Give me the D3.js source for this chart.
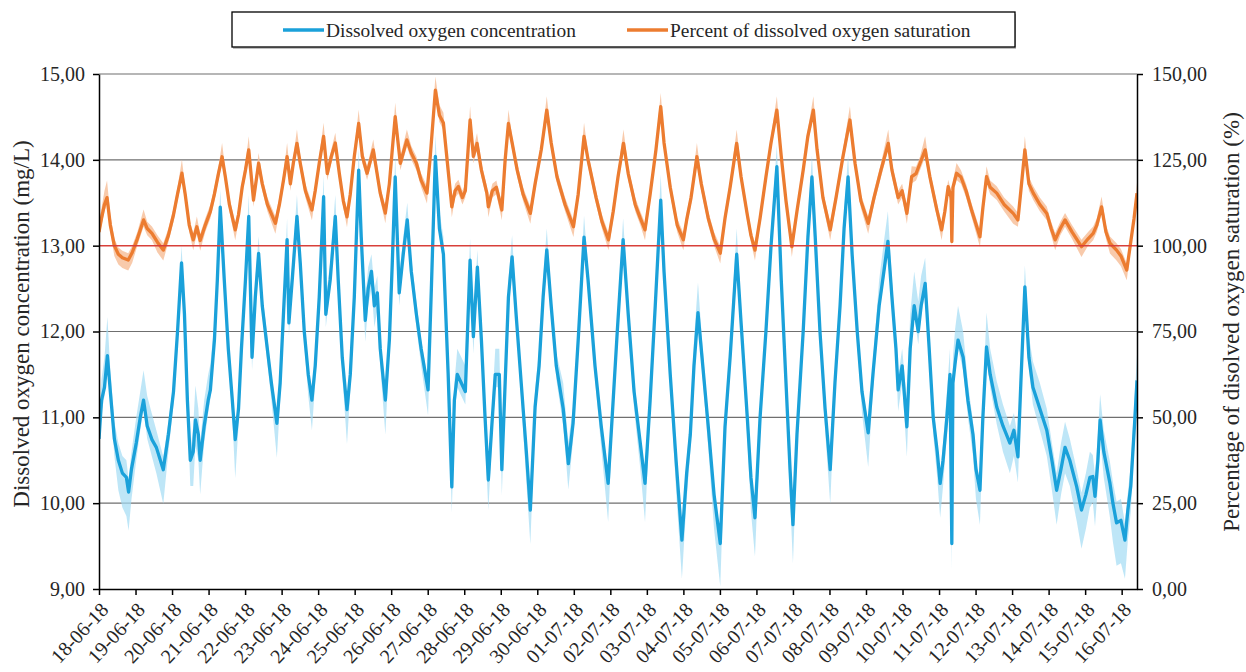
<!DOCTYPE html>
<html><head><meta charset="utf-8">
<script src="https://cdn.jsdelivr.net/npm/d3@7"></script>
<style>
body{margin:0;background:#fff}
svg{display:block}
text{font-family:"Liberation Serif","Times New Roman",serif;fill:#262626}
</style>
</head><body>
<svg id="chart" width="1246" height="672"></svg>
<script>
// ---------- DATA ----------
const legendLabels = ["Dissolved oxygen concentration", "Percent of dissolved oxygen saturation"];
const leftAxisTitle = "Dissolved oxygen concentration (mg/L)";
const rightAxisTitle = "Percentage of disolved oxygen saturation (%)";
const leftTicks = [9, 10, 11, 12, 13, 14, 15];
const rightTicks = [0, 25, 50, 75, 100, 125, 150];
const dateLabels = ["18-06-18","19-06-18","20-06-18","21-06-18","22-06-18","23-06-18","24-06-18","25-06-18",
  "26-06-18","27-06-18","28-06-18","29-06-18","30-06-18","01-07-18","02-07-18","03-07-18","04-07-18",
  "05-07-18","06-07-18","07-07-18","08-07-18","09-07-18","10-07-18","11-07-18","12-07-18","13-07-18",
  "14-07-18","15-07-18","16-07-18"];
const saturationReference = 100; // %

// Dissolved oxygen concentration (mg/L): time in days since 18-06-18 00:00
const doTime = [
 0,0.07,0.15,0.23,0.31,0.42,0.53,0.64,0.75,0.81,
 0.89,1.02,1.13,1.22,1.32,1.45,1.57,1.76,1.90,2.04,
 2.15,2.26,2.34,2.42,2.50,2.58,2.64,2.72,2.77,2.88,
 2.99,3.05,3.16,3.24,3.32,3.43,3.54,3.65,3.73,3.82,
 3.90,4.01,4.10,4.19,4.28,4.37,4.47,4.58,4.72,4.87,
 4.96,5.05,5.15,5.20,5.29,5.42,5.51,5.62,5.73,5.83,
 5.92,6.03,6.15,6.21,6.33,6.47,6.55,6.66,6.79,6.88,
 6.99,7.11,7.18,7.29,7.37,7.46,7.54,7.62,7.70,7.84,
 7.95,8.03,8.11,8.22,8.33,8.44,8.55,8.69,8.82,9.01,
 9.10,9.21,9.32,9.43,9.56,9.66,9.73,9.81,9.92,10.03,
 10.16,10.25,10.36,10.47,10.57,10.66,10.77,10.85,10.96,11.03,
 11.12,11.21,11.31,11.42,11.56,11.70,11.81,11.94,12.05,12.16,
 12.26,12.38,12.52,12.71,12.85,12.98,13.12,13.28,13.39,13.58,
 13.75,13.94,14.05,14.19,14.35,14.49,14.65,14.82,14.95,15.09,
 15.23,15.38,15.47,15.64,15.80,15.96,16.09,16.19,16.29,16.40,
 16.51,16.68,16.84,17.01,17.14,17.28,17.46,17.58,17.75,17.85,
 17.96,18.10,18.26,18.40,18.56,18.68,18.81,18.92,19.00,19.11,
 19.28,19.41,19.52,19.61,19.74,19.88,20.02,20.15,20.29,20.40,
 20.51,20.62,20.76,20.89,21.06,21.19,21.36,21.49,21.60,21.71,
 21.82,21.88,21.99,22.12,22.21,22.32,22.43,22.51,22.62,22.73,
 22.84,22.95,23.03,23.11,23.21,23.30,23.35,23.38,23.44,23.52,
 23.66,23.79,23.93,24.01,24.12,24.20,24.30,24.40,24.58,24.75,
 24.94,25.05,25.16,25.24,25.35,25.46,25.57,25.76,25.95,26.09,
 26.22,26.34,26.45,26.58,26.77,26.90,27.02,27.13,27.21,27.27,
 27.35,27.41,27.51,27.68,27.76,27.86,27.98,28.09,28.17,28.25,
 28.36,28.42];
const doValue = [
 10.75,11.20,11.35,11.72,11.30,10.75,10.50,10.35,10.30,10.13,
 10.40,10.70,11.00,11.20,10.90,10.74,10.65,10.39,10.80,11.30,
 12.00,12.80,12.20,11.20,10.50,10.60,10.97,10.80,10.50,10.90,
 11.20,11.32,11.90,12.60,13.45,12.60,11.80,11.20,10.74,11.10,
 11.80,12.60,13.34,11.70,12.40,12.91,12.30,11.90,11.40,10.93,
 11.40,12.20,13.07,12.10,12.60,13.34,12.80,12.00,11.50,11.20,
 11.60,12.40,13.57,12.20,12.60,13.34,12.60,11.70,11.09,11.50,
 12.40,13.88,13.10,12.13,12.50,12.70,12.30,12.45,11.80,11.20,
 11.90,12.80,13.80,12.45,12.90,13.30,12.70,12.20,11.80,11.32,
 12.50,14.04,13.20,12.90,11.50,10.19,11.20,11.50,11.40,11.30,
 12.83,11.94,12.75,11.90,11.00,10.27,11.00,11.50,11.50,10.39,
 11.40,12.40,12.87,12.20,11.40,10.60,9.92,11.12,11.60,12.40,
 12.95,12.30,11.60,11.10,10.46,10.93,11.90,13.10,12.60,11.60,
 10.90,10.23,11.00,12.00,13.07,12.20,11.30,10.70,10.23,11.20,
 12.30,13.53,12.70,11.50,10.50,9.57,10.35,10.80,11.60,12.22,
 11.70,10.90,10.10,9.53,10.89,11.70,12.90,12.10,11.00,10.30,
 9.83,11.00,12.00,13.00,13.92,12.60,11.40,10.40,9.75,10.80,
 12.00,13.10,13.80,13.10,12.00,11.10,10.39,11.40,12.30,13.20,
 13.80,12.90,12.00,11.30,10.82,11.50,12.30,12.70,13.05,12.40,
 11.80,11.32,11.60,10.89,11.80,12.30,12.00,12.30,12.56,11.80,
 11.00,10.60,10.23,10.50,10.97,11.50,9.53,11.40,11.63,11.90,
 11.70,11.20,10.80,10.40,10.15,11.00,11.82,11.50,11.12,10.90,
 10.70,10.85,10.54,11.40,12.52,11.70,11.35,11.10,10.85,10.50,
 10.15,10.40,10.65,10.50,10.19,9.92,10.10,10.30,10.31,10.08,
 10.50,10.97,10.60,10.23,10.00,9.77,9.80,9.57,9.92,10.20,
 10.97,11.43];
// spread of the shaded band below / above the concentration line (mg/L)
const doBandDown = [
 .10,.15,.10,.10,.10,.20,.35,.40,.45,.45,
 .35,.20,.15,.10,.15,.20,.30,.40,.20,.15,
 .10,.10,.10,.10,.30,.40,.30,.30,.40,.20,
 .15,.10,.10,.10,.10,.10,.10,.20,.45,.20,
 .10,.10,.10,.15,.10,.10,.10,.15,.20,.40,
 .20,.10,.10,.15,.10,.10,.10,.15,.25,.35,
 .20,.10,.10,.15,.10,.10,.10,.20,.40,.20,
 .10,.10,.15,.25,.20,.20,.25,.20,.20,.40,
 .15,.10,.10,.15,.10,.10,.10,.15,.20,.30,
 .10,.10,.10,.10,.20,.30,.20,.15,.15,.15,
 .10,.20,.10,.15,.25,.35,.20,.15,.15,.30,
 .15,.10,.10,.10,.20,.35,.40,.15,.10,.10,
 .10,.10,.15,.20,.30,.20,.10,.10,.10,.15,
 .25,.45,.20,.10,.10,.10,.20,.30,.45,.15,
 .10,.10,.10,.15,.35,.45,.30,.20,.15,.10,
 .15,.25,.40,.50,.20,.10,.10,.10,.25,.40,
 .45,.20,.10,.10,.10,.10,.20,.35,.45,.20,
 .10,.10,.10,.10,.15,.25,.40,.15,.10,.10,
 .10,.10,.15,.25,.40,.20,.10,.10,.10,.10,
 .15,.25,.20,.35,.15,.10,.15,.10,.10,.15,
 .20,.30,.40,.30,.20,.15,.30,.15,.10,.10,
 .15,.20,.25,.35,.40,.20,.10,.15,.20,.30,
 .35,.30,.30,.15,.10,.15,.20,.25,.30,.35,
 .40,.30,.30,.30,.40,.45,.40,.35,.30,.35,
 .30,.20,.30,.40,.45,.50,.50,.45,.35,.30,
 .20,.15];
const doBandUp = [
 .15,.25,.35,.45,.25,.20,.20,.20,.20,.15,
 .20,.30,.30,.35,.35,.30,.20,.15,.15,.10,
 .10,.20,.15,.10,.10,.30,.40,.30,.20,.30,
 .30,.30,.20,.20,.20,.20,.15,.10,.10,.10,
 .10,.20,.25,.20,.20,.20,.15,.15,.10,.10,
 .10,.15,.25,.20,.20,.25,.15,.15,.10,.10,
 .10,.15,.25,.20,.20,.25,.15,.10,.10,.10,
 .15,.25,.20,.25,.25,.20,.20,.20,.15,.10,
 .10,.15,.25,.20,.20,.20,.15,.15,.10,.10,
 .15,.25,.20,.20,.15,.15,.20,.30,.30,.30,
 .25,.20,.20,.15,.10,.10,.20,.30,.30,.20,
 .20,.20,.25,.15,.10,.10,.10,.20,.20,.20,
 .25,.15,.15,.30,.25,.20,.15,.25,.15,.10,
 .10,.10,.10,.15,.25,.15,.15,.10,.10,.10,
 .15,.30,.20,.15,.10,.10,.15,.20,.30,.35,
 .20,.10,.10,.10,.15,.20,.30,.15,.10,.10,
 .10,.10,.15,.20,.25,.15,.10,.10,.10,.10,
 .15,.20,.25,.15,.10,.10,.10,.10,.15,.20,
 .25,.15,.10,.10,.10,.15,.30,.35,.35,.20,
 .15,.15,.20,.30,.40,.40,.35,.35,.30,.20,
 .15,.10,.10,.20,.30,.30,.10,.30,.40,.40,
 .30,.20,.15,.10,.10,.20,.40,.30,.30,.25,
 .20,.20,.20,.25,.25,.25,.30,.30,.25,.20,
 .20,.30,.30,.25,.20,.20,.25,.30,.25,.25,
 .30,.30,.25,.25,.25,.25,.25,.20,.20,.25,
 .30,.30];

// Percent of dissolved oxygen saturation (%)
const satTime = [
 0,0.07,0.15,0.22,0.31,0.42,0.53,0.64,0.80,0.91,
 1.05,1.22,1.32,1.45,1.60,1.76,1.90,2.04,2.15,2.27,
 2.36,2.47,2.58,2.68,2.77,2.91,3.05,3.16,3.27,3.37,
 3.46,3.57,3.73,3.82,3.92,4.01,4.10,4.23,4.37,4.47,
 4.61,4.83,4.94,5.05,5.15,5.24,5.32,5.42,5.51,5.65,
 5.83,5.92,6.03,6.15,6.25,6.36,6.47,6.58,6.69,6.79,
 6.88,6.99,7.11,7.21,7.34,7.51,7.70,7.84,7.95,8.03,
 8.11,8.25,8.43,8.55,8.69,8.82,8.98,9.07,9.21,9.32,
 9.43,9.54,9.66,9.75,9.84,9.95,10.03,10.16,10.25,10.35,
 10.47,10.62,10.66,10.77,10.88,11.03,11.12,11.21,11.31,11.45,
 11.61,11.81,11.94,12.11,12.26,12.38,12.54,12.76,12.99,13.12,
 13.28,13.39,13.61,13.77,13.95,14.08,14.21,14.36,14.49,14.68,
 14.82,14.95,15.09,15.25,15.38,15.47,15.64,15.83,16.00,16.09,
 16.21,16.37,16.49,16.68,16.84,17.01,17.14,17.28,17.46,17.58,
 17.75,17.85,17.96,18.10,18.26,18.40,18.56,18.68,18.81,18.97,
 19.11,19.28,19.41,19.56,19.66,19.82,20.02,20.18,20.37,20.56,
 20.70,20.86,21.06,21.22,21.41,21.61,21.71,21.88,21.99,22.12,
 22.25,22.37,22.48,22.62,22.75,22.94,23.07,23.16,23.25,23.33,
 23.35,23.38,23.48,23.60,23.74,23.90,24.12,24.20,24.30,24.40,
 24.58,24.78,25.03,25.16,25.24,25.35,25.46,25.58,25.76,25.95,
 26.07,26.18,26.32,26.45,26.64,26.90,27.08,27.22,27.32,27.45,
 27.57,27.68,27.86,27.98,28.14,28.23,28.34,28.42];
const satValue = [
 104,108,112,114,106,100,97.5,96.5,95.8,98,
 102,107.5,105,103.6,101,98.7,103,109,115,121.1,
 115,106,101.7,105.5,101.5,106,110,115,121,125.9,
 120,112,104.6,109,117,122,127.9,113.3,124,118,
 112,106.5,112,119,125.9,118,124,129.8,124,116,
 110.4,116,124,131.8,121,126,129.9,121,113,108.4,
 115,126,135.6,126,121.1,127.9,115.3,109.5,118,128,
 137.6,124,130.8,127,124,119,115.3,126,145.3,138,
 135.7,124,111.3,116,117.2,114,116,136.6,126,129.8,
 122,115.3,111.3,116,117,110.4,125,135.6,130,122,
 115,109.4,118,128,139.5,130,120,112,105.5,115,
 131.8,125,114,107,101.7,110,120,129.8,121,112,
 108,104.6,115,128,140.5,130,117,106,101.7,107.5,
 114,125.9,118,108,102,97.8,108,117,129.8,120,
 109,103,98.7,108,120,130,139.5,126,113,99.7,
 110,122,132,139.5,128,114,104.6,114,126,136.6,
 124,113,106.5,114,122,129.8,122,114,116,109.4,
 120.1,121,124,127.9,120,110.4,104.6,110,117.2,114,
 101.2,117,121.1,120,116,110,102.6,111,120.1,117,
 115.3,112,109.4,107.5,116,127.9,118,115.3,112,109.4,
 105,101.7,105,107.5,104,99.7,102,103.6,106,111.3,
 104,100.7,98.7,97,92.9,99.7,108,115.3];
const satBandDown = [
 2,2,2,2,2,3,3,3,3,3,
 2,2,2,2,3,3,2,2,2,2,
 2,2,3,2,3,2,2,2,2,2,
 2,2,3,2,2,2,2,2,2,2,
 2,3,2,2,2,2,2,2,2,2,
 3,2,2,2,2,2,2,2,2,3,
 2,2,2,2,2,2,2,3,2,2,
 2,2,2,2,2,2,3,2,2,2,
 2,2,3,2,2,2,2,2,2,2,
 2,2,3,2,2,3,2,2,2,2,
 2,3,2,2,2,2,2,2,3,2,
 2,2,2,2,3,2,2,2,2,2,
 2,3,2,2,2,2,2,2,3,2,
 2,2,2,2,2,3,2,2,2,2,
 2,2,3,2,2,2,2,2,2,3,
 2,2,2,2,2,2,3,2,2,2,
 2,2,3,2,2,2,2,2,2,3,
 2,2,2,2,2,2,3,2,2,2,
 2,2,2,2,2,2,3,2,2,2,
 2,2,3,2,2,2,2,2,2,2,
 2,3,2,2,2,3,2,2,2,2,
 2,3,3,3,3,2,2,2];
const satBandUp = [
 3,3,4,5,3,2,2,2,2,2,
 2,3,2,2,2,2,2,2,2,4,
 2,2,2,3,2,2,2,2,2,4,
 2,2,2,2,2,2,4,2,3,2,
 2,2,2,2,4,2,2,4,2,2,
 2,2,2,4,2,2,3,2,2,2,
 2,2,4,2,2,3,2,2,2,2,
 4,2,3,2,2,2,2,2,4,3,
 3,2,2,2,2,2,2,4,2,3,
 2,2,2,2,2,2,2,4,2,2,
 2,2,2,2,4,2,2,2,2,2,
 4,2,2,2,2,2,2,4,2,2,
 2,2,2,2,4,2,2,2,2,2,
 2,4,2,2,2,2,2,2,4,2,
 2,2,2,2,2,2,4,2,2,2,
 2,2,2,4,2,2,2,2,2,4,
 2,2,2,2,2,4,2,2,2,2,
 3,2,2,4,2,2,2,2,2,2,
 2,2,3,2,2,2,2,2,3,2,
 2,2,2,2,2,4,2,2,2,2,
 2,2,2,2,2,2,2,2,2,3,
 2,2,2,2,2,2,2,3];

// ---------- CHART ----------
const plot = {left: 99, right: 1137, top: 74, bottom: 589};
const svg = d3.select("#chart");
const start = new Date(2018, 5, 18);
const toDate = t => new Date(start.getTime() + t * 864e5);
const endDays = doTime[doTime.length - 1];

const x = d3.scaleTime().domain([start, toDate(endDays)]).range([plot.left, plot.right]);
const yL = d3.scaleLinear().domain([9, 15]).range([plot.bottom, plot.top]);
const yR = d3.scaleLinear().domain([0, 150]).range([plot.bottom, plot.top]);
const fmt = v => d3.format(".2f")(v).replace(".", ",");

const doData = doTime.map((t, i) => ({t: toDate(t), v: doValue[i], lo: doValue[i] - doBandDown[i], hi: doValue[i] + doBandUp[i]}));
const satData = satTime.map((t, i) => ({t: toDate(t), v: satValue[i], lo: satValue[i] - satBandDown[i], hi: satValue[i] + satBandUp[i]}));

svg.append("defs").append("clipPath").attr("id", "clip")
  .append("rect").attr("x", plot.left).attr("y", plot.top - 2)
  .attr("width", plot.right - plot.left).attr("height", plot.bottom - plot.top + 2);

// gridlines
svg.append("g").selectAll("line").data(leftTicks.filter(v => v !== 9 && v !== 13)).join("line")
  .attr("x1", plot.left).attr("x2", plot.right)
  .attr("y1", d => yL(d)).attr("y2", d => yL(d))
  .attr("stroke", "#6f6f6f").attr("stroke-width", 1.2);

const g = svg.append("g").attr("clip-path", "url(#clip)");

g.append("path").datum(doData)
  .attr("d", d3.area().x(d => x(d.t)).y0(d => yL(d.lo)).y1(d => yL(d.hi)))
  .attr("fill", "#a3dbf3").attr("fill-opacity", 0.7);
g.append("path").datum(doData)
  .attr("d", d3.line().x(d => x(d.t)).y(d => yL(d.v)))
  .attr("fill", "none").attr("stroke", "#1aa1da").attr("stroke-width", 3.3).attr("stroke-linejoin", "round");

// reference line at 100 %
svg.append("line").attr("x1", plot.left).attr("x2", plot.right)
  .attr("y1", yR(saturationReference)).attr("y2", yR(saturationReference))
  .attr("stroke", "#d8403a").attr("stroke-width", 1.5);

g.append("path").datum(satData)
  .attr("d", d3.area().x(d => x(d.t)).y0(d => yR(d.lo)).y1(d => yR(d.hi)))
  .attr("fill", "#f6bd96").attr("fill-opacity", 0.8);
g.append("path").datum(satData)
  .attr("d", d3.line().x(d => x(d.t)).y(d => yR(d.v)))
  .attr("fill", "none").attr("stroke", "#ec7c30").attr("stroke-width", 3.3).attr("stroke-linejoin", "round");

// axes
const axisL = svg.append("g").attr("transform", `translate(${plot.left},0)`)
  .call(d3.axisLeft(yL).tickValues(leftTicks).tickSize(6).tickSizeOuter(0).tickFormat(fmt));
const axisR = svg.append("g").attr("transform", `translate(${plot.right},0)`)
  .call(d3.axisRight(yR).tickValues(rightTicks).tickSize(6).tickSizeOuter(0).tickFormat(fmt));
const dayDates = dateLabels.map(s => { const [d, m, y] = s.split("-").map(Number); return new Date(2000 + y, m - 1, d); });
const axisB = svg.append("g").attr("transform", `translate(0,${plot.bottom})`)
  .call(d3.axisBottom(x).tickValues(dayDates).tickSize(6).tickSizeOuter(0).tickFormat((d, i) => dateLabels[i]));

[axisL, axisR, axisB].forEach(a => {
  a.select(".domain").attr("stroke", "#000").attr("stroke-width", 1.5);
  a.selectAll(".tick line").attr("stroke", "#000").attr("stroke-width", 1.5);
  a.selectAll("text").attr("font-family", "Liberation Serif, serif").attr("fill", "#262626");
});
axisL.selectAll("text").attr("font-size", 20).attr("x", -14);
axisR.selectAll("text").attr("font-size", 20).attr("x", 15);
axisB.selectAll(".tick text").attr("font-size", 20)
  .attr("text-anchor", "end").attr("dy", "0.35em")
  .attr("transform", "translate(5,17) rotate(-47)").attr("y", 0).attr("x", 0);

// axis titles
svg.append("text").attr("transform", "translate(29,324) rotate(-90)")
  .attr("text-anchor", "middle").attr("font-size", 23).text(leftAxisTitle);
svg.append("text").attr("transform", "translate(1239,322) rotate(-90)")
  .attr("text-anchor", "middle").attr("font-size", 23).text(rightAxisTitle);

// legend
const lg = svg.append("g");
lg.append("rect").attr("x", 233).attr("y", 14).attr("width", 783).attr("height", 35)
  .attr("fill", "#000").attr("opacity", 0.25);
lg.append("rect").attr("x", 232).attr("y", 12).attr("width", 783).attr("height", 35)
  .attr("fill", "#fff").attr("stroke", "#000").attr("stroke-width", 1.3);
const legendItems = [
  {label: legendLabels[0], color: "#1aa1da", x: 283},
  {label: legendLabels[1], color: "#ec7c30", x: 627}
];
legendItems.forEach(it => {
  lg.append("line").attr("x1", it.x).attr("x2", it.x + 41).attr("y1", 30).attr("y2", 30)
    .attr("stroke", it.color).attr("stroke-width", 3.5);
  lg.append("text").attr("x", it.x + 43).attr("y", 30).attr("dy", "0.35em")
    .attr("font-size", 19.4).text(it.label);
});
</script>
</body></html>
